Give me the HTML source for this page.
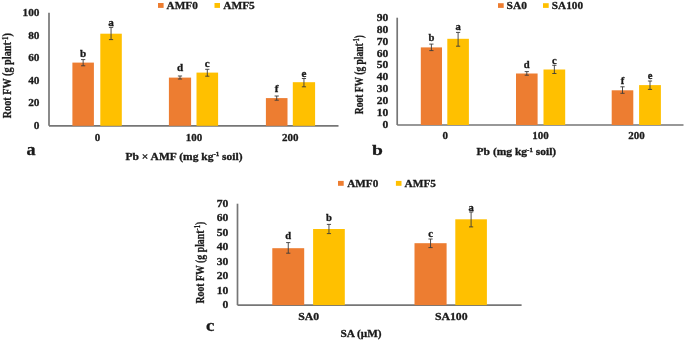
<!DOCTYPE html>
<html><head><meta charset="utf-8"><style>
html,body{margin:0;padding:0;background:#fff;}
body{width:685px;height:340px;overflow:hidden;}
svg{display:block;filter:blur(0.5px);font-family:"Liberation Serif", serif;font-weight:bold;fill:#1a1a1a;}
text{stroke:#1a1a1a;stroke-width:0.3px;}
</style></head><body>
<svg width="685" height="340" viewBox="0 0 685 340">
<rect width="685" height="340" fill="#ffffff"/>
<line x1="49.00" y1="12.70" x2="49.00" y2="125.80" stroke="#767676" stroke-width="1.7"/>
<line x1="49.00" y1="125.80" x2="338.50" y2="125.80" stroke="#767676" stroke-width="1.7"/>
<text transform="translate(39.50,129.04) scale(1.03,1.0)" font-size="11" text-anchor="end" >0</text>
<text transform="translate(39.50,106.42) scale(1.03,1.0)" font-size="11" text-anchor="end" >20</text>
<text transform="translate(39.50,83.80) scale(1.03,1.0)" font-size="11" text-anchor="end" >40</text>
<text transform="translate(39.50,61.18) scale(1.03,1.0)" font-size="11" text-anchor="end" >60</text>
<text transform="translate(39.50,38.56) scale(1.03,1.0)" font-size="11" text-anchor="end" >80</text>
<text transform="translate(39.50,15.94) scale(1.03,1.0)" font-size="11" text-anchor="end" >100</text>
<rect x="72.40" y="62.60" width="21.50" height="63.20" fill="#ED7D31"/>
<line x1="83.15" y1="59.60" x2="83.15" y2="65.80" stroke="#3a3a3a" stroke-width="0.9"/>
<line x1="81.05" y1="59.60" x2="85.25" y2="59.60" stroke="#3a3a3a" stroke-width="0.9"/>
<line x1="81.05" y1="65.80" x2="85.25" y2="65.80" stroke="#3a3a3a" stroke-width="0.9"/>
<text transform="translate(83.15,56.70) scale(1.06,1.0)" font-size="10.5" text-anchor="middle" >b</text>
<rect x="100.30" y="33.70" width="21.50" height="92.10" fill="#FFC000"/>
<line x1="111.05" y1="27.40" x2="111.05" y2="39.60" stroke="#3a3a3a" stroke-width="0.9"/>
<line x1="108.95" y1="27.40" x2="113.15" y2="27.40" stroke="#3a3a3a" stroke-width="0.9"/>
<line x1="108.95" y1="39.60" x2="113.15" y2="39.60" stroke="#3a3a3a" stroke-width="0.9"/>
<text transform="translate(111.05,26.00) scale(1.06,1.0)" font-size="10.5" text-anchor="middle" >a</text>
<rect x="168.90" y="77.60" width="22.20" height="48.20" fill="#ED7D31"/>
<line x1="180.00" y1="76.00" x2="180.00" y2="79.00" stroke="#3a3a3a" stroke-width="0.9"/>
<line x1="177.90" y1="76.00" x2="182.10" y2="76.00" stroke="#3a3a3a" stroke-width="0.9"/>
<line x1="177.90" y1="79.00" x2="182.10" y2="79.00" stroke="#3a3a3a" stroke-width="0.9"/>
<text transform="translate(180.00,71.30) scale(1.06,1.0)" font-size="10.5" text-anchor="middle" >d</text>
<rect x="196.50" y="72.60" width="21.60" height="53.20" fill="#FFC000"/>
<line x1="207.30" y1="69.30" x2="207.30" y2="76.20" stroke="#3a3a3a" stroke-width="0.9"/>
<line x1="205.20" y1="69.30" x2="209.40" y2="69.30" stroke="#3a3a3a" stroke-width="0.9"/>
<line x1="205.20" y1="76.20" x2="209.40" y2="76.20" stroke="#3a3a3a" stroke-width="0.9"/>
<text transform="translate(207.30,66.50) scale(1.06,1.0)" font-size="10.5" text-anchor="middle" >c</text>
<rect x="265.90" y="98.10" width="21.60" height="27.70" fill="#ED7D31"/>
<line x1="276.70" y1="96.00" x2="276.70" y2="100.20" stroke="#3a3a3a" stroke-width="0.9"/>
<line x1="274.60" y1="96.00" x2="278.80" y2="96.00" stroke="#3a3a3a" stroke-width="0.9"/>
<line x1="274.60" y1="100.20" x2="278.80" y2="100.20" stroke="#3a3a3a" stroke-width="0.9"/>
<text transform="translate(276.70,92.30) scale(1.06,1.0)" font-size="10.5" text-anchor="middle" >f</text>
<rect x="292.80" y="82.20" width="22.30" height="43.60" fill="#FFC000"/>
<line x1="303.95" y1="78.50" x2="303.95" y2="86.80" stroke="#3a3a3a" stroke-width="0.9"/>
<line x1="301.85" y1="78.50" x2="306.05" y2="78.50" stroke="#3a3a3a" stroke-width="0.9"/>
<line x1="301.85" y1="86.80" x2="306.05" y2="86.80" stroke="#3a3a3a" stroke-width="0.9"/>
<text transform="translate(303.95,76.50) scale(1.06,1.0)" font-size="10.5" text-anchor="middle" >e</text>
<text x="97.55" y="141.20" font-size="11" text-anchor="middle" >0</text>
<text x="194.10" y="141.20" font-size="11" text-anchor="middle" >100</text>
<text x="290.25" y="141.20" font-size="11" text-anchor="middle" >200</text>
<text x="125.50" y="159.60" font-size="10.3" text-anchor="start" textLength="117.1" lengthAdjust="spacingAndGlyphs">Pb × AMF (mg kg<tspan dy="-3.3" font-size="6.2">-1</tspan><tspan dy="3.3"> soil)</tspan></text>
<text transform="translate(11.30,118.30) rotate(-90)" font-size="12" textLength="85.2" lengthAdjust="spacingAndGlyphs">Root FW (g plant<tspan dy="-3.6" font-size="8">-1</tspan><tspan dy="3.6">)</tspan></text>
<rect x="158.00" y="3.00" width="5.60" height="4.90" fill="#ED7D31"/>
<text transform="translate(166.60,8.50) scale(1.0,0.9)" font-size="11" text-anchor="start" textLength="31.2" lengthAdjust="spacingAndGlyphs">AMF0</text>
<rect x="214.50" y="3.00" width="5.50" height="4.90" fill="#FFC000"/>
<text transform="translate(223.20,8.50) scale(1.0,0.9)" font-size="11" text-anchor="start" textLength="31.6" lengthAdjust="spacingAndGlyphs">AMF5</text>
<text transform="translate(26.60,154.60) scale(1.1,1.0)" font-size="16.5" text-anchor="start" >a</text>
<line x1="397.20" y1="17.70" x2="397.20" y2="125.00" stroke="#767676" stroke-width="1.7"/>
<line x1="397.20" y1="125.00" x2="683.50" y2="125.00" stroke="#767676" stroke-width="1.7"/>
<text transform="translate(388.30,128.07) scale(1.07,1.0)" font-size="10.8" text-anchor="end" >0</text>
<text transform="translate(388.30,116.15) scale(1.07,1.0)" font-size="10.8" text-anchor="end" >10</text>
<text transform="translate(388.30,104.23) scale(1.07,1.0)" font-size="10.8" text-anchor="end" >20</text>
<text transform="translate(388.30,92.31) scale(1.07,1.0)" font-size="10.8" text-anchor="end" >30</text>
<text transform="translate(388.30,80.38) scale(1.07,1.0)" font-size="10.8" text-anchor="end" >40</text>
<text transform="translate(388.30,68.46) scale(1.07,1.0)" font-size="10.8" text-anchor="end" >50</text>
<text transform="translate(388.30,56.54) scale(1.07,1.0)" font-size="10.8" text-anchor="end" >60</text>
<text transform="translate(388.30,44.62) scale(1.07,1.0)" font-size="10.8" text-anchor="end" >70</text>
<text transform="translate(388.30,32.69) scale(1.07,1.0)" font-size="10.8" text-anchor="end" >80</text>
<text transform="translate(388.30,20.77) scale(1.07,1.0)" font-size="10.8" text-anchor="end" >90</text>
<rect x="420.80" y="47.40" width="21.20" height="77.60" fill="#ED7D31"/>
<line x1="431.40" y1="44.10" x2="431.40" y2="50.60" stroke="#3a3a3a" stroke-width="0.9"/>
<line x1="429.30" y1="44.10" x2="433.50" y2="44.10" stroke="#3a3a3a" stroke-width="0.9"/>
<line x1="429.30" y1="50.60" x2="433.50" y2="50.60" stroke="#3a3a3a" stroke-width="0.9"/>
<text transform="translate(431.40,40.90) scale(1.06,1.0)" font-size="10" text-anchor="middle" >b</text>
<rect x="447.30" y="38.80" width="21.60" height="86.20" fill="#FFC000"/>
<line x1="458.10" y1="32.40" x2="458.10" y2="46.20" stroke="#3a3a3a" stroke-width="0.9"/>
<line x1="456.00" y1="32.40" x2="460.20" y2="32.40" stroke="#3a3a3a" stroke-width="0.9"/>
<line x1="456.00" y1="46.20" x2="460.20" y2="46.20" stroke="#3a3a3a" stroke-width="0.9"/>
<text transform="translate(458.10,30.30) scale(1.06,1.0)" font-size="10" text-anchor="middle" >a</text>
<rect x="516.00" y="73.50" width="21.60" height="51.50" fill="#ED7D31"/>
<line x1="526.80" y1="71.60" x2="526.80" y2="75.20" stroke="#3a3a3a" stroke-width="0.9"/>
<line x1="524.70" y1="71.60" x2="528.90" y2="71.60" stroke="#3a3a3a" stroke-width="0.9"/>
<line x1="524.70" y1="75.20" x2="528.90" y2="75.20" stroke="#3a3a3a" stroke-width="0.9"/>
<text transform="translate(526.80,68.10) scale(1.06,1.0)" font-size="10" text-anchor="middle" >d</text>
<rect x="543.50" y="69.50" width="21.70" height="55.50" fill="#FFC000"/>
<line x1="554.35" y1="65.30" x2="554.35" y2="73.50" stroke="#3a3a3a" stroke-width="0.9"/>
<line x1="552.25" y1="65.30" x2="556.45" y2="65.30" stroke="#3a3a3a" stroke-width="0.9"/>
<line x1="552.25" y1="73.50" x2="556.45" y2="73.50" stroke="#3a3a3a" stroke-width="0.9"/>
<text transform="translate(554.35,64.10) scale(1.06,1.0)" font-size="10" text-anchor="middle" >c</text>
<rect x="611.70" y="90.30" width="21.60" height="34.70" fill="#ED7D31"/>
<line x1="622.50" y1="86.80" x2="622.50" y2="93.30" stroke="#3a3a3a" stroke-width="0.9"/>
<line x1="620.40" y1="86.80" x2="624.60" y2="86.80" stroke="#3a3a3a" stroke-width="0.9"/>
<line x1="620.40" y1="93.30" x2="624.60" y2="93.30" stroke="#3a3a3a" stroke-width="0.9"/>
<text transform="translate(622.50,84.30) scale(1.06,1.0)" font-size="10" text-anchor="middle" >f</text>
<rect x="639.10" y="85.10" width="21.80" height="39.90" fill="#FFC000"/>
<line x1="650.00" y1="81.00" x2="650.00" y2="89.40" stroke="#3a3a3a" stroke-width="0.9"/>
<line x1="647.90" y1="81.00" x2="652.10" y2="81.00" stroke="#3a3a3a" stroke-width="0.9"/>
<line x1="647.90" y1="89.40" x2="652.10" y2="89.40" stroke="#3a3a3a" stroke-width="0.9"/>
<text transform="translate(650.00,78.50) scale(1.06,1.0)" font-size="10" text-anchor="middle" >e</text>
<text x="445.20" y="139.30" font-size="11" text-anchor="middle" >0</text>
<text x="540.60" y="139.30" font-size="11" text-anchor="middle" >100</text>
<text x="636.60" y="139.30" font-size="11" text-anchor="middle" >200</text>
<text x="476.60" y="154.80" font-size="10.3" text-anchor="start" textLength="79.6" lengthAdjust="spacingAndGlyphs">Pb (mg kg<tspan dy="-3.3" font-size="6.2">-1</tspan><tspan dy="3.3"> soil)</tspan></text>
<text transform="translate(363.00,114.20) rotate(-90)" font-size="12.5" textLength="79.2" lengthAdjust="spacingAndGlyphs">Root FW (g plant<tspan dy="-3.6" font-size="8">-1</tspan><tspan dy="3.6">)</tspan></text>
<rect x="498.00" y="3.20" width="5.70" height="4.70" fill="#ED7D31"/>
<text transform="translate(506.60,8.50) scale(1.0,0.9)" font-size="11" text-anchor="start" textLength="20.4" lengthAdjust="spacingAndGlyphs">SA0</text>
<rect x="543.00" y="3.20" width="5.70" height="4.70" fill="#FFC000"/>
<text transform="translate(551.80,8.50) scale(1.0,0.9)" font-size="11" text-anchor="start" textLength="31.2" lengthAdjust="spacingAndGlyphs">SA100</text>
<text transform="translate(371.90,154.60) scale(1.26,1.0)" font-size="15.5" text-anchor="start" >b</text>
<line x1="237.50" y1="203.70" x2="237.50" y2="305.10" stroke="#767676" stroke-width="1.7"/>
<line x1="237.50" y1="305.10" x2="521.60" y2="305.10" stroke="#767676" stroke-width="1.7"/>
<text transform="translate(228.40,308.14) scale(1.06,1.0)" font-size="11" text-anchor="end" >0</text>
<text transform="translate(228.40,293.65) scale(1.06,1.0)" font-size="11" text-anchor="end" >10</text>
<text transform="translate(228.40,279.17) scale(1.06,1.0)" font-size="11" text-anchor="end" >20</text>
<text transform="translate(228.40,264.68) scale(1.06,1.0)" font-size="11" text-anchor="end" >30</text>
<text transform="translate(228.40,250.20) scale(1.06,1.0)" font-size="11" text-anchor="end" >40</text>
<text transform="translate(228.40,235.71) scale(1.06,1.0)" font-size="11" text-anchor="end" >50</text>
<text transform="translate(228.40,221.23) scale(1.06,1.0)" font-size="11" text-anchor="end" >60</text>
<text transform="translate(228.40,206.74) scale(1.06,1.0)" font-size="11" text-anchor="end" >70</text>
<rect x="272.30" y="248.20" width="31.90" height="56.90" fill="#ED7D31"/>
<line x1="288.25" y1="242.60" x2="288.25" y2="253.20" stroke="#3a3a3a" stroke-width="0.9"/>
<line x1="286.15" y1="242.60" x2="290.35" y2="242.60" stroke="#3a3a3a" stroke-width="0.9"/>
<line x1="286.15" y1="253.20" x2="290.35" y2="253.20" stroke="#3a3a3a" stroke-width="0.9"/>
<text transform="translate(288.25,239.30) scale(1.06,1.0)" font-size="10" text-anchor="middle" >d</text>
<rect x="313.10" y="229.00" width="31.70" height="76.10" fill="#FFC000"/>
<line x1="328.95" y1="224.40" x2="328.95" y2="233.60" stroke="#3a3a3a" stroke-width="0.9"/>
<line x1="326.85" y1="224.40" x2="331.05" y2="224.40" stroke="#3a3a3a" stroke-width="0.9"/>
<line x1="326.85" y1="233.60" x2="331.05" y2="233.60" stroke="#3a3a3a" stroke-width="0.9"/>
<text transform="translate(328.95,220.70) scale(1.06,1.0)" font-size="10" text-anchor="middle" >b</text>
<rect x="414.50" y="243.20" width="32.10" height="61.90" fill="#ED7D31"/>
<line x1="430.55" y1="239.00" x2="430.55" y2="247.60" stroke="#3a3a3a" stroke-width="0.9"/>
<line x1="428.45" y1="239.00" x2="432.65" y2="239.00" stroke="#3a3a3a" stroke-width="0.9"/>
<line x1="428.45" y1="247.60" x2="432.65" y2="247.60" stroke="#3a3a3a" stroke-width="0.9"/>
<text transform="translate(430.55,237.40) scale(1.06,1.0)" font-size="10" text-anchor="middle" >c</text>
<rect x="455.30" y="219.30" width="31.60" height="85.80" fill="#FFC000"/>
<line x1="471.10" y1="212.00" x2="471.10" y2="226.90" stroke="#3a3a3a" stroke-width="0.9"/>
<line x1="469.00" y1="212.00" x2="473.20" y2="212.00" stroke="#3a3a3a" stroke-width="0.9"/>
<line x1="469.00" y1="226.90" x2="473.20" y2="226.90" stroke="#3a3a3a" stroke-width="0.9"/>
<text transform="translate(471.10,210.70) scale(1.06,1.0)" font-size="10" text-anchor="middle" >a</text>
<text transform="translate(308.65,319.70) scale(1.07,1.0)" font-size="11" text-anchor="middle" >SA0</text>
<text transform="translate(451.20,319.70) scale(1.07,1.0)" font-size="11" text-anchor="middle" >SA100</text>
<text x="340.40" y="337.00" font-size="11" text-anchor="start" textLength="41.2" lengthAdjust="spacingAndGlyphs">SA (μM)</text>
<text transform="translate(203.60,303.60) rotate(-90)" font-size="12" textLength="81.8" lengthAdjust="spacingAndGlyphs">Root FW (g plant<tspan dy="-3.6" font-size="8">-1</tspan><tspan dy="3.6">)</tspan></text>
<rect x="338.00" y="180.90" width="5.70" height="4.90" fill="#ED7D31"/>
<text transform="translate(347.20,186.70) scale(1.0,0.9)" font-size="11" text-anchor="start" textLength="31.1" lengthAdjust="spacingAndGlyphs">AMF0</text>
<rect x="395.90" y="180.90" width="5.60" height="4.90" fill="#FFC000"/>
<text transform="translate(404.60,186.70) scale(1.0,0.9)" font-size="11" text-anchor="start" textLength="31.4" lengthAdjust="spacingAndGlyphs">AMF5</text>
<text transform="translate(206.00,330.80) scale(1.1,1.0)" font-size="17.2" text-anchor="start" >c</text>
</svg>
</body></html>
